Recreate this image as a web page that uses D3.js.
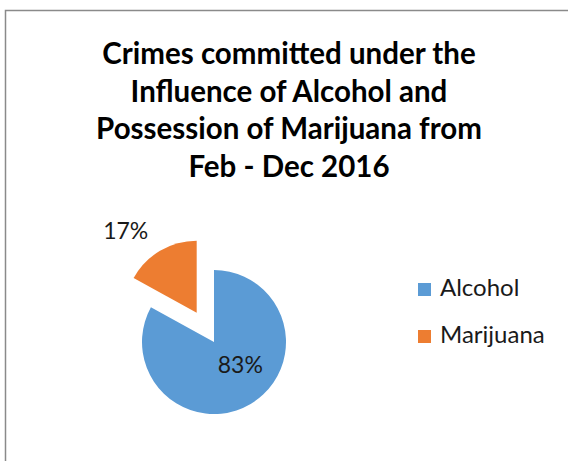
<!DOCTYPE html>
<html>
<head>
<meta charset="utf-8">
<script src="https://cdn.jsdelivr.net/npm/d3@7"></script>
<style>
  html, body { margin: 0; padding: 0; background: #fff; }
  svg { display: block; }
</style>
</head>
<body>
<svg id="chart" width="568" height="461"></svg>
<script>
// Chart data
const categories = ["Alcohol", "Marijuana"];
const values = [83, 17];
const colors = ["#5B9BD5", "#ED7D31"];
const titleLines = [
  "Crimes committed under the",
  "Influence of Alcohol and",
  "Possession of Marijuana from",
  "Feb - Dec 2016"
];

const svg = d3.select("#chart");
const FONT = "Lato, 'Open Sans', 'Liberation Sans', sans-serif";

// Chart area frame
svg.append("rect")
  .attr("x", 5.5).attr("y", 10.5)
  .attr("width", 620).attr("height", 520)
  .attr("fill", "#fff")
  .attr("stroke", "#8a8a8a")
  .attr("stroke-width", 1.5);

// Title
const title = svg.append("text")
  .attr("text-anchor", "middle")
  .attr("font-family", FONT)
  .attr("font-weight", "bold")
  .attr("font-size", 29.5)
  .attr("fill", "#000");
titleLines.forEach((t, i) => {
  title.append("tspan").attr("x", 289).attr("y", 64 + i * 37.5).text(t);
});

// Pie
const cx = 214, cy = 342, r = 72, explode = 34;
const pie = d3.pie().sort(null).value(d => d.value);
const arcs = pie(categories.map((c, i) => ({ name: c, value: values[i], color: colors[i] })));
const arc = d3.arc().innerRadius(0).outerRadius(r);

const total = d3.sum(values);
const pct = d3.format(".0%");

const g = svg.append("g").attr("transform", `translate(${cx},${cy})`);

arcs.forEach((a, i) => {
  const mid = (a.startAngle + a.endAngle) / 2;
  const off = i === 1 ? explode : 0;
  const dx = Math.sin(mid) * off, dy = -Math.cos(mid) * off;
  const sg = g.append("g").attr("transform", `translate(${dx},${dy})`);
  sg.append("path").attr("d", arc(a)).attr("fill", a.data.color);

  // Data labels: inside for the large slice, outside for the small one
  const lr = i === 1 ? r + 36 : r * 0.5;
  let lx = Math.sin(mid) * lr, ly = -Math.cos(mid) * lr;
  if (i === 0) { lx += 8; ly -= 9; } else { lx -= 16; ly += 10; }
  sg.append("text")
    .attr("x", lx).attr("y", ly)
    .attr("text-anchor", "middle")
    .attr("dominant-baseline", "central")
    .attr("font-family", FONT)
    .attr("font-size", 23)
    .attr("fill", "#1a1a1a")
    .text(pct(a.data.value / total));
});

// Legend
const legend = svg.append("g").attr("transform", "translate(418,283)");
categories.forEach((c, i) => {
  const row = legend.append("g").attr("transform", `translate(0,${i * 47})`);
  row.append("rect").attr("width", 13).attr("height", 13).attr("fill", colors[i]);
  row.append("text")
    .attr("x", 22).attr("y", 13)
    .attr("font-family", FONT)
    .attr("font-size", 24)
    .attr("fill", "#1a1a1a")
    .text(c);
});
</script>
</body>
</html>
